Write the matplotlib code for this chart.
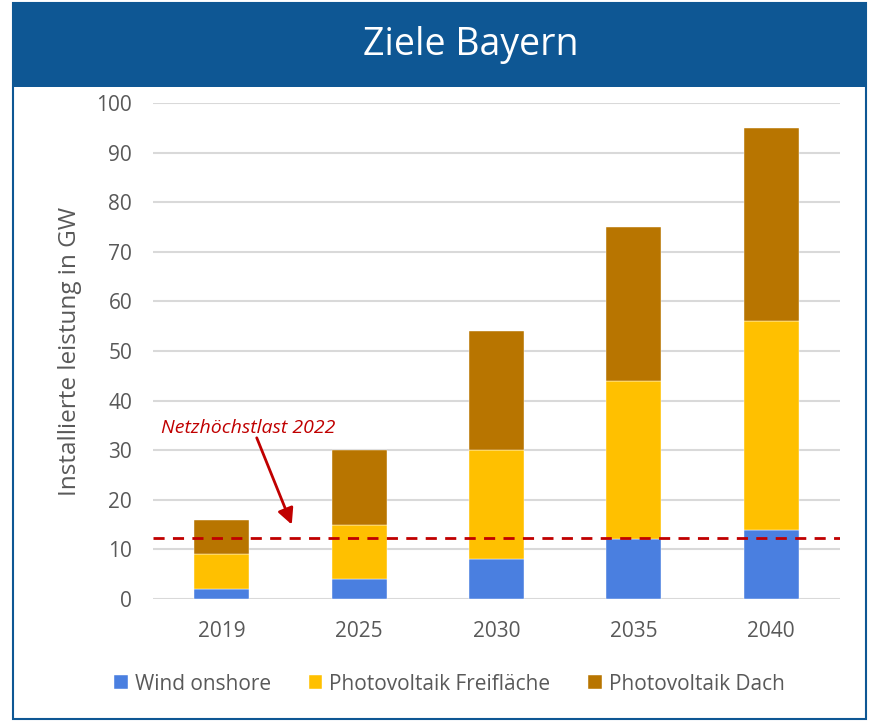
import numpy as np
import matplotlib.pyplot as plt
from matplotlib.patches import Rectangle

plt.rcParams['font.family'] = ['Open Sans', 'DejaVu Sans']

years = ['2019', '2025', '2030', '2035', '2040']
wind = [2, 4, 8, 12, 14]
pv_frei = [7, 11, 22, 32, 42]
pv_dach = [7, 15, 24, 31, 39]
netzlast = 12.3

labels = ['Wind onshore', 'Photovoltaik Freifläche', 'Photovoltaik Dach']
colors = ['#4A7FE0', '#FFC000', '#B87500']

fig = plt.figure(figsize=(8.73, 7.22), dpi=100)

# title band and frame
frame_col = '#0E5794'
fig.patches.append(Rectangle((12/873, 1-87/722), 854/873, 84/722, transform=fig.transFigure,
                             facecolor=frame_col, edgecolor='none', zorder=0))
fig.patches.append(Rectangle((13/873, 1-719/722), 853/873, 716/722, transform=fig.transFigure,
                             facecolor='none', edgecolor=frame_col, lw=1.5, zorder=0))
fig.text(471/873, 1-45/722, 'Ziele Bayern', color='white', fontsize=27, ha='center', va='center')

ax = fig.add_axes([153/873, 1-599/722, 687/873, 496/722])
x = np.arange(len(years))
w = 0.4
b1 = np.array(wind)
b2 = b1 + np.array(pv_frei)
ax.bar(x, wind, w, color=colors[0], label=labels[0], zorder=3, edgecolor='white', lw=0.3)
ax.bar(x, pv_frei, w, bottom=b1, color=colors[1], label=labels[1], zorder=3, edgecolor='white', lw=0.3)
ax.bar(x, pv_dach, w, bottom=b2, color=colors[2], label=labels[2], zorder=3, edgecolor='white', lw=0.3)

ax.axhline(netzlast, color='#C00000', ls=(0, (4, 3)), lw=2, zorder=4)
ax.text(-0.44, 34.5, 'Netzhöchstlast 2022', color='#C00000', fontsize=14,
        style='italic', ha='left', va='center')
ax.annotate('', xy=(0.51, 15.0), xytext=(0.255, 32.5),
            arrowprops=dict(arrowstyle='-|>', color='#C00000', lw=2, mutation_scale=24,
                            shrinkA=0, shrinkB=0))

ax.set_xlim(-0.5, 4.5)
ax.set_ylim(0, 100)
ax.set_yticks(range(0, 101, 10))
ax.set_xticks(x)
ax.set_xticklabels(years)
ax.grid(axis='y', color='#D9D9D9', lw=1.5, zorder=0)
for s in ax.spines.values():
    s.set_visible(False)
ax.tick_params(length=0, labelsize=15, colors='#595959')
ax.tick_params(axis='y', pad=15)
ax.tick_params(axis='x', pad=16)
ax.set_ylabel('Installierte leistung in GW', fontsize=17.5, color='#595959')
ax.yaxis.set_label_coords(-(153-82)/687, 0.5)

fig.legend(loc='center', bbox_to_anchor=(0.5 + 13/873, 1-684/722), ncol=3, frameon=False,
           fontsize=15, labelcolor='#595959', handlelength=0.65, handleheight=0.65,
           columnspacing=1.8, handletextpad=0.35)

fig.savefig('out.png', dpi=100)
